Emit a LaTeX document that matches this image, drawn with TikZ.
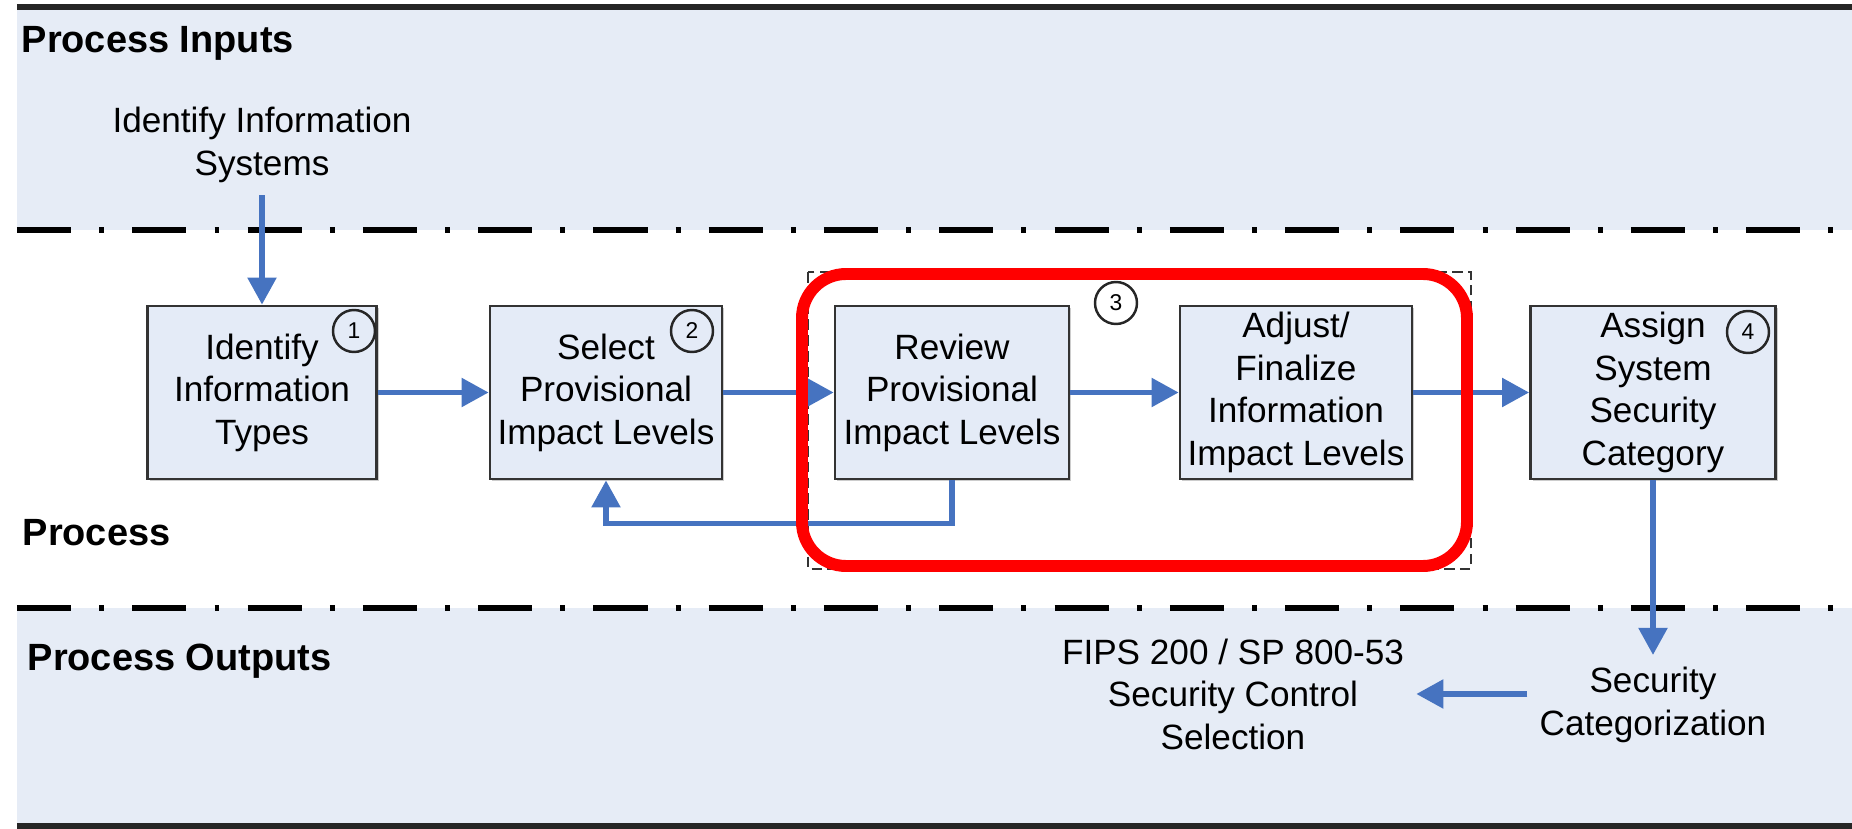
\documentclass[tikz,border=0pt]{standalone}
\usepackage{fontspec}
\setmainfont{Liberation Sans}
\usetikzlibrary{arrows.meta,positioning,calc,shadows}
\definecolor{bandblue}{RGB}{230,236,246}
\definecolor{boxblue}{RGB}{228,235,247}
\definecolor{flowblue}{RGB}{70,115,192}

\begin{document}
\begin{tikzpicture}[
    stepbox/.style={draw=black!80, line width=0.8pt, fill=boxblue, minimum width=2.32cm,
      minimum height=1.73cm, inner sep=1pt, align=center, font=\fontsize{10}{12.1}\selectfont,
      drop shadow={shadow xshift=0.6pt, shadow yshift=-0.6pt, fill=black!50, opacity=0.4}},
    plain/.style={align=center, font=\fontsize{10}{12.1}\selectfont},
    band/.style={font=\bfseries\fontsize{10.8}{13}\selectfont, inner sep=0pt, anchor=base west},
    num/.style={draw=black!85, line width=0.7pt, circle, minimum size=0.42cm, inner sep=0pt,
      font=\fontsize{6.5}{7}\selectfont},
    flow/.style={draw=flowblue, line width=1.5pt, -{Triangle[length=7.7pt,width=8pt]}},
    divider/.style={line width=1.8pt, dash pattern=on 15.4pt off 8pt on 1.4pt off 8pt},
  ]
    \useasboundingbox (0,0) rectangle (18.52,-8.29);
    \fill[bandblue] (0.17,-0.07) rectangle (18.52,-2.30);
    \fill[bandblue] (0.17,-6.08) rectangle (18.52,-8.26);
    \draw[line width=1.8pt, black!85] (0.17,-0.07) -- (18.52,-0.07);
    \draw[line width=1.5pt, black!85] (0.17,-8.26) -- (18.52,-8.26);
    \draw[divider] (0.17,-2.30) -- (18.52,-2.30);
    \draw[divider] (0.17,-6.08) -- (18.52,-6.08);

    \node[band] (inputs) at (0.21,-0.53) {Process Inputs};
    \node[band] (process) at (0.22,-5.46) {Process};
    \node[band] (outputs) at (0.27,-6.71) {Process Outputs};

    \draw[black!80, line width=0.7pt, dash pattern=on 3pt off 1.5pt] (8.08,-2.72) rectangle (14.71,-5.69);

    \node[plain] (sys) at (2.62,-1.45) {Identify Information\\Systems};
    \node[stepbox, minimum width=2.29cm] (b1) at (2.62,-3.925) {Identify\\Information\\Types};
    \node[stepbox] (b2) at (6.06,-3.925) {Select\\Provisional\\Impact Levels};
    \node[stepbox, minimum width=2.34cm] (b3) at (9.52,-3.925) {Review\\Provisional\\Impact Levels};
    \node[stepbox] (b4) at (12.96,-3.925) {Adjust/\\Finalize\\Information\\Impact Levels};
    \node[stepbox, minimum width=2.45cm] (b5) at (16.53,-3.925) {Assign\\System\\Security\\Category};
    \node[plain] (fips) at (12.33,-6.94) {FIPS 200 / SP 800-53\\Security Control\\Selection};
    \node[plain] (sc) at (16.53,-7.05) {Security\\Categorization};

    \node[num] (n1) at (3.54,-3.31) {1};
    \node[num] (n2) at (6.92,-3.31) {2};
    \node[num] (n3) at (11.16,-3.03) {3};
    \node[num] (n4) at (17.48,-3.32) {4};

    \draw[flow] (sys) -- (b1);
    \draw[flow] (b1) -- (b2);
    \draw[flow] (b2) -- (b3);
    \draw[flow] (b3) -- (b4);
    \draw[flow] (b4) -- (b5);
    \draw[flow] (b3.south) -- ++(0,-0.43) -| (b2.south);
    \draw[flow] (b5) -- (sc);
    \draw[flow] (sc.west |- fips.east) -- (fips.east);

    \draw[red, line width=3.4pt, rounded corners=0.44cm] (8.02,-2.74) rectangle (14.67,-5.66);
  \end{tikzpicture}
\end{document}
